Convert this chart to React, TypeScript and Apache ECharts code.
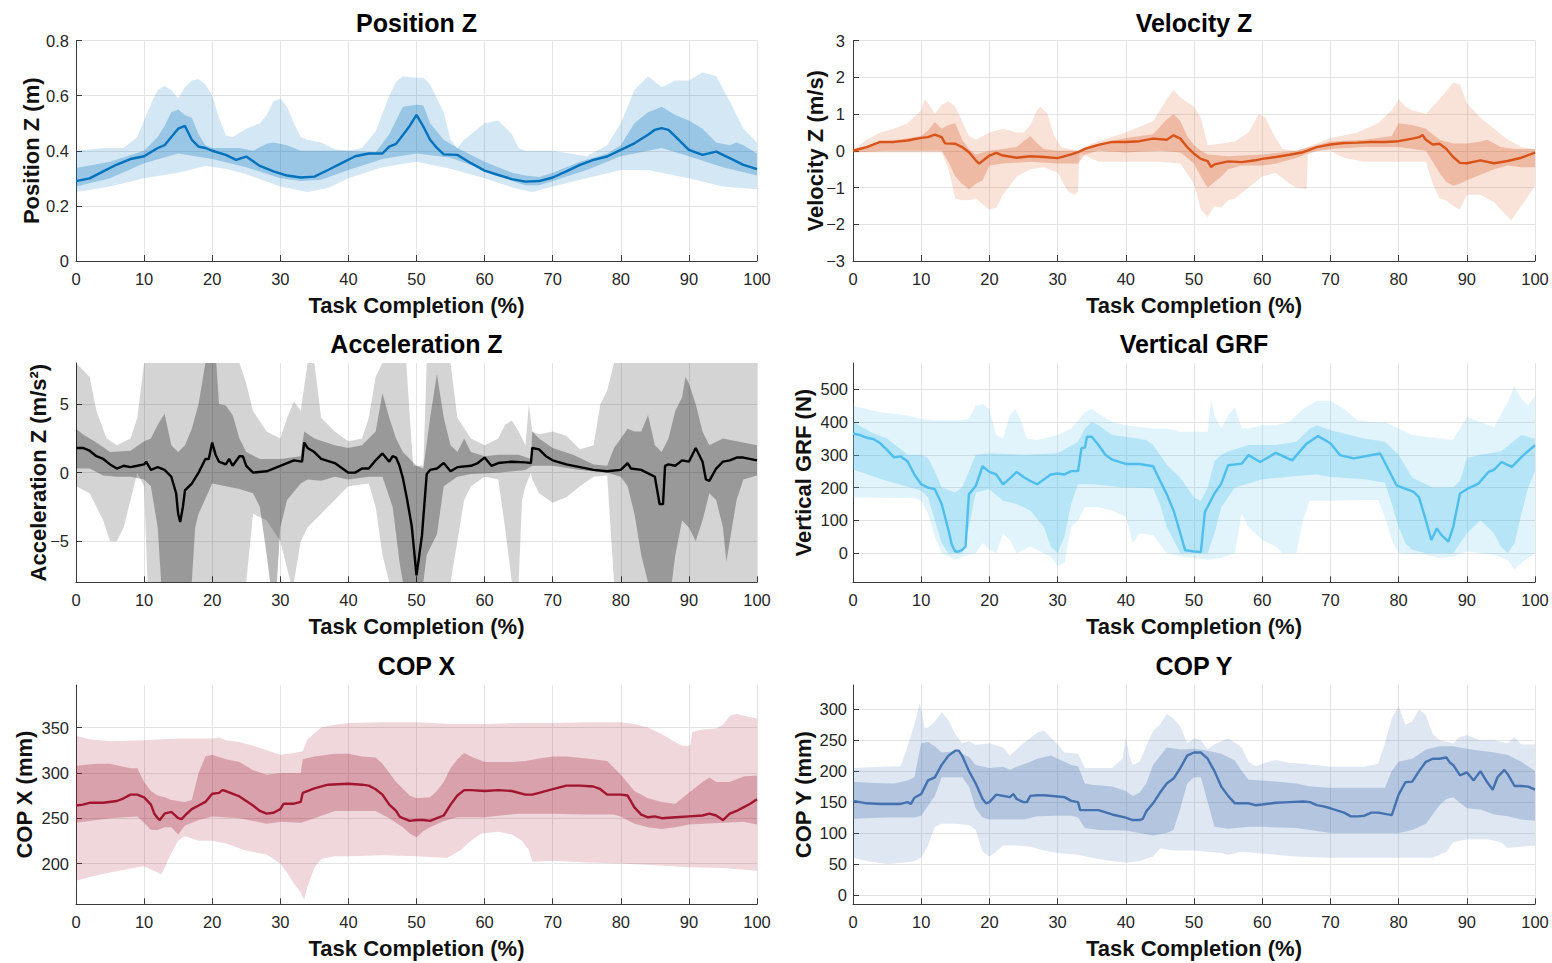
import React, { useEffect, useRef } from "react";
import * as echarts from "echarts";

type Pt = [number, number];

// ---------------- shared ticks / labels ----------------
const xTicksPct = [0, 10, 20, 30, 40, 50, 60, 70, 80, 90, 100];
const xLabel = "Task Completion (%)";

// ---------------- Position Z ----------------
const posZTicks = [0, 0.2, 0.4, 0.6, 0.8];
const posZMean: Pt[] = [[0,0.29],[2,0.30],[4,0.325],[6,0.35],[8,0.37],[10,0.38],[12,0.41],[13,0.42],[14,0.45],[15,0.48],[16,0.49],[17,0.44],[18,0.415],[19,0.41],[20,0.40],[22,0.385],[23.5,0.367],[25,0.379],[27,0.345],[29,0.325],[31,0.31],[33,0.303],[35,0.306],[37,0.33],[39,0.355],[41,0.38],[43,0.39],[45,0.39],[46,0.415],[47,0.425],[48,0.457],[49,0.49],[50,0.53],[51,0.488],[52,0.44],[53,0.41],[54,0.387],[56,0.385],[58,0.355],[60,0.328],[62,0.312],[64,0.297],[66,0.288],[68,0.29],[70,0.303],[72,0.325],[74,0.349],[76,0.367],[78,0.379],[80,0.403],[82,0.427],[84,0.458],[85,0.476],[86,0.482],[87,0.476],[88,0.452],[90,0.403],[92,0.385],[94,0.397],[96,0.373],[98,0.349],[100,0.333]];
const posZInHi: Pt[] = [[0,0.337],[5,0.36],[10,0.40],[12,0.45],[13,0.49],[14,0.54],[15,0.55],[16,0.53],[17,0.52],[18,0.46],[19,0.42],[20,0.41],[24,0.41],[26,0.40],[28,0.425],[29,0.43],[31,0.42],[33,0.40],[36,0.40],[40,0.40],[44,0.395],[46,0.46],[48,0.56],[50,0.567],[51,0.565],[52,0.50],[54,0.44],[56,0.41],[60,0.36],[64,0.32],[66,0.31],[68,0.305],[70,0.32],[74,0.36],[78,0.39],[80,0.42],[82,0.50],[84,0.54],[86,0.56],[88,0.53],[90,0.51],[92,0.48],[94,0.43],[96,0.42],[97,0.43],[98,0.42],[100,0.39]];
const posZInLo: Pt[] = [[0,0.27],[5,0.30],[10,0.355],[15,0.39],[20,0.37],[25,0.34],[30,0.30],[33,0.29],[36,0.295],[40,0.33],[45,0.37],[50,0.39],[55,0.375],[60,0.33],[64,0.29],[66,0.275],[68,0.275],[70,0.29],[75,0.33],[80,0.38],[84,0.40],[86,0.41],[90,0.38],[95,0.34],[100,0.31]];
const posZOutHi: Pt[] = [[0,0.40],[4,0.41],[7,0.41],[9,0.45],[11,0.57],[12,0.62],[13,0.635],[14,0.62],[15,0.59],[16,0.63],[17,0.655],[18,0.66],[19,0.64],[20,0.60],[21,0.52],[22,0.455],[23,0.45],[25,0.48],[27,0.50],[28,0.53],[29,0.58],[30,0.59],[31,0.56],[32,0.50],[33,0.45],[34,0.44],[36,0.43],[38,0.405],[40,0.40],[42,0.41],[44,0.47],[46,0.60],[47,0.65],[48,0.67],[50,0.665],[51,0.665],[52,0.64],[54,0.54],[55,0.44],[56,0.41],[57,0.44],[60,0.50],[62,0.51],[64,0.46],[65,0.41],[66,0.40],[70,0.40],[75,0.38],[78,0.42],[80,0.50],[82,0.62],[84,0.67],[86,0.63],[88,0.655],[90,0.655],[92,0.685],[94,0.67],[96,0.58],[98,0.48],[100,0.43]];
const posZOutLo: Pt[] = [[0,0.25],[5,0.27],[10,0.30],[15,0.32],[19,0.345],[22,0.335],[25,0.315],[30,0.27],[34,0.25],[37,0.265],[40,0.30],[45,0.34],[50,0.36],[55,0.335],[60,0.30],[65,0.26],[67,0.25],[70,0.27],[75,0.30],[80,0.33],[84,0.33],[90,0.30],[95,0.27],[100,0.26]];

// ---------------- Velocity Z ----------------
const velTicks = [-3, -2, -1, 0, 1, 2, 3];
const velMean: Pt[] = [[0,0],[2,0.1],[4,0.24],[6,0.24],[8,0.28],[10,0.35],[11,0.37],[12,0.44],[13,0.37],[13.5,0.2],[15,0.19],[16,0.1],[17,-0.04],[18,-0.26],[18.5,-0.35],[20,-0.13],[21,-0.06],[22,-0.13],[24,-0.19],[26,-0.15],[28,-0.17],[30,-0.2],[32,-0.1],[33,-0.04],[34,0.05],[36,0.16],[38,0.24],[40,0.24],[42,0.26],[44,0.33],[46,0.3],[47,0.42],[48,0.33],[49,0.1],[50,-0.08],[51,-0.22],[52,-0.28],[52.5,-0.44],[53,-0.37],[55,-0.29],[57,-0.31],[59,-0.26],[60,-0.22],[62,-0.17],[64,-0.11],[66,-0.04],[68,0.1],[70,0.17],[72,0.21],[74,0.22],[76,0.24],[78,0.24],[80,0.26],[82,0.33],[83,0.37],[83.5,0.43],[84,0.3],[85,0.17],[86,0.19],[87,0.05],[88,-0.17],[89,-0.33],[90,-0.34],[92,-0.26],[94,-0.34],[96,-0.28],[98,-0.19],[100,-0.05]];
const velInHi: Pt[] = [[0,0.05],[5,0.25],[10,0.4],[11,0.55],[12,0.78],[13,0.6],[14,0.7],[15,0.75],[16,0.3],[17,0.05],[18,-0.1],[20,0],[22,0.05],[24,0.1],[25,0.25],[26,0.4],[27,0.2],[28,0.05],[30,0],[33,0],[35,0.15],[40,0.35],[44,0.45],[46,0.85],[47,1.0],[48,0.8],[49,0.4],[50,0.15],[51,0],[52,-0.1],[55,-0.15],[60,-0.1],[65,0],[68,0.15],[70,0.25],[75,0.3],[79,0.4],[80,0.75],[82,0.7],[84,0.6],[86,0.3],[88,0.2],[90,0.2],[92,0.25],[93,0.3],[95,0.1],[97,0.05],[100,0.05]];
const velInLo: Pt[] = [[0,-0.05],[5,0],[10,0],[13,0],[14,-0.3],[15,-0.7],[16,-0.9],[17,-1.05],[18,-0.9],[19,-0.8],[20,-0.4],[22,-0.35],[26,-0.3],[30,-0.35],[33,-0.35],[34,-0.1],[36,0],[40,-0.05],[45,0],[48,-0.05],[50,-0.35],[51,-0.7],[52,-1.0],[53,-0.85],[54,-0.7],[55,-0.5],[57,-0.4],[60,-0.4],[62,-0.35],[65,-0.2],[67,-0.05],[70,0.05],[75,0.1],[80,0.1],[84,0],[85,-0.3],[86,-0.6],[87,-0.85],[88,-0.95],[89,-0.9],[90,-0.8],[92,-0.65],[94,-0.5],[96,-0.4],[98,-0.45],[100,-0.45]];
const velOutHi: Pt[] = [[0,0],[2,0.3],[4,0.5],[6,0.6],[8,0.75],[10,1.1],[10.5,1.4],[11,1.3],[12,1.0],[13,1.25],[14,1.35],[15,1.2],[16,0.8],[17,0.4],[18,0.3],[20,0.5],[22,0.6],[24,0.5],[25,0.5],[26,0.7],[27,1.1],[27.5,1.2],[28.5,1.0],[29.5,0.4],[30.5,0.1],[33,0],[35,0.2],[40,0.5],[44,0.8],[46,1.4],[47,1.65],[48,1.45],[50,1.2],[51,0.9],[52,0.15],[54,0.2],[56,0.25],[58,0.5],[59.5,1.0],[60.5,0.9],[61.5,0.5],[63,0.05],[65,0],[68,0.2],[70,0.35],[74,0.5],[77,0.75],[79,1.1],[80,1.4],[81,1.2],[82,1.1],[84,1.0],[86,1.4],[88,1.85],[89,1.8],[90,1.3],[92,0.9],[94,0.6],[96,0.3],[98,0.1],[100,0.05]];
const velOutLo: Pt[] = [[0,-0.05],[13,-0.05],[14,-0.5],[15,-1.3],[16,-1.35],[17,-1.35],[18,-1.3],[19,-1.45],[20,-1.6],[21,-1.55],[22,-1.2],[24,-0.7],[26,-0.5],[28,-0.45],[30,-0.6],[31.5,-1.1],[32.5,-1.2],[33,-1.1],[33.2,-0.05],[36,-0.3],[40,-0.3],[45,-0.3],[48,-0.35],[50,-0.9],[51,-1.6],[52,-1.8],[53,-1.5],[54,-1.55],[55,-1.35],[56,-1.3],[58,-1.0],[60,-0.7],[62,-0.6],[64,-0.9],[65,-1.0],[66.5,-1.05],[66.7,-0.1],[68,0],[70,0],[72,-0.2],[75,-0.3],[80,-0.3],[84,-0.3],[85,-0.9],[86,-1.3],[87,-1.35],[88,-1.5],[89,-1.6],[90,-1.2],[92,-1.2],[94,-1.4],[95,-1.6],[96.5,-1.9],[98,-1.5],[100,-0.95]];

// ---------------- Acceleration Z ----------------
const accTicks = [-5, 0, 5];
const accMean: Pt[] = [[0,1.8],[1,1.8],[2,1.6],[3,1.2],[4,1.0],[5,0.6],[6,0.3],[7,0.5],[8,0.4],[9,0.5],[10,0.6],[10.3,0.8],[11,0.2],[12,0.4],[13,0.2],[14,-0.3],[14.7,-1.5],[15,-3.0],[15.3,-3.6],[15.7,-2.5],[16,-1.3],[17,-0.8],[18,0],[19,1.0],[19.5,1.0],[20,2.2],[20.5,1.3],[21,0.8],[22,0.6],[22.5,1.0],[23,0.5],[24,1.2],[24.5,1.2],[25,0.5],[26,0],[28,0.1],[30,0.5],[32,0.9],[33.2,0.8],[33.5,2.2],[34,1.8],[35,1.5],[36,1.0],[38,0.7],[40,0],[41,0],[42,0.3],[43,0.3],[44,0.9],[45,1.4],[46,0.8],[46.5,1.2],[47,1.1],[47.5,0.5],[48,-0.4],[48.6,-1.9],[49.3,-3.9],[50,-7.5],[50.8,-4.6],[51.5,-0.1],[52,0.2],[53,0.3],[54,0.7],[55,0.1],[56,0.4],[58,0.5],[59,0.7],[60,1.1],[61,0.5],[62,0.7],[64,0.8],[66,0.75],[66.8,0.7],[67,1.8],[68,1.7],[69,1.2],[70,0.9],[72,0.6],[74,0.4],[76,0.2],[78,0.1],[80,0.2],[81,0.7],[81.5,0.3],[83,0.2],[85,-0.3],[85.7,-2.3],[86.2,-2.3],[86.5,0.5],[87,0.6],[88,0.5],[89,0.9],[90,0.8],[91,1.8],[92,0.8],[92.5,-0.5],[93,-0.6],[94,0.3],[95,0.8],[96,0.9],[97,1.1],[98,1.1],[100,0.9]];
const accInHi: Pt[] = [[0,3.2],[1,2.8],[3,2.2],[5,1.5],[8,1.6],[10,2.3],[11,2.5],[12,3.5],[13,4.3],[14,2.0],[15,1.5],[16,2.0],[17,3.2],[18,5.0],[19,8],[20.6,8],[21,5.0],[22,4.9],[23,4.2],[24,2.5],[25,1.5],[27,1.0],[30,1.0],[33,1.2],[33.5,3.0],[35,2.5],[38,2.0],[40,1.8],[42,2.0],[44,3.0],[45,5.8],[46,4.0],[47,2.5],[48,1.5],[50,0.5],[51,0.3],[52,4.0],[53,7.2],[54,4.0],[55,2.0],[56,1.5],[57,2.5],[58,1.5],[60,1.2],[62,1.3],[65,1.3],[66.8,1.0],[67,3.0],[68,2.5],[70,1.8],[73,1.3],[76,0.6],[78,0.5],[79,1.8],[80,2.5],[81,3.2],[82,3.0],[83,3.0],[84,4.2],[85,2.0],[86,1.5],[87,2.5],[88,4.5],[89,5.5],[89.5,7.0],[90,6.5],[91,5.0],[92,3.0],[93,2.0],[95,2.5],[97,2.3],[100,2.0]];
const accInLo: Pt[] = [[0,0.3],[2,0.3],[4,-0.2],[6,-0.3],[8,-0.3],[10,-0.5],[11,-1.0],[12,-4.0],[12.5,-8],[17,-8],[17.5,-4],[18,-3],[20,-0.8],[22,-1.0],[24,-1.2],[26,-1.5],[27,-2.5],[28,-6],[28.5,-8],[29.5,-8],[30,-4],[31,-2.0],[33,-0.8],[34,-0.5],[36,-0.6],[38,-0.3],[40,-0.5],[43,-0.3],[45,-0.3],[46.5,-2.5],[47.5,-6.5],[48,-8],[51,-8],[51.5,-6],[52,-5.5],[53,-4.5],[54,-1.0],[56,-0.3],[58,-0.1],[62,0],[66,0.2],[67,0.5],[70,0.5],[74,0.2],[78,0],[80,-0.3],[81,-1.0],[82,-3.0],[83,-6.0],[84,-8],[87.5,-8],[88,-6],[89,-3.5],[90,-4.0],[91,-5.0],[92,-3.5],[93,-1.5],[94,-2.0],[95,-4.0],[95.5,-6.5],[96,-5.0],[97,-2.0],[98,-0.5],[100,-0.2]];
const accOutHi: Pt[] = [[0,8],[2,7],[3,4.5],[4.5,2.5],[6,2.0],[8,2.5],[9,4],[10,8],[24,8],[25,6.5],[26,4.5],[28,3],[30,2.5],[31,4],[32,5.2],[33,4.5],[34,8],[35,8],[36,4],[38,3],[40,2.3],[42,2.5],[43,4],[44,7],[45,8],[48.5,8],[49.5,0.5],[51,0.5],[51.5,8],[55,8],[56,4],[58,2.5],[60,2.0],[62,2.5],[63,3.5],[64,3.8],[65,3.0],[66,2.0],[66.5,5.0],[67,3.0],[68,2.8],[70,3.0],[72,2.7],[74,1.7],[76,2.0],[77,5.0],[78,6.0],[79,8],[100,8]];
const accOutLo: Pt[] = [[0,-1.0],[2,-1.5],[4,-3.5],[5,-5.0],[6,-5.0],[7,-4.0],[8,-2.0],[9,0],[10,-1.0],[10.5,-8],[25,-8],[26,-3],[28,-3.5],[30,-5],[31.5,-8],[32,-8],[33,-5],[34,-4],[36,-3],[38,-2],[40,-1.0],[43,-0.8],[44,-2.5],[45,-6],[46,-8],[55,-8],[56,-5],[57,-2],[58,-1],[60,-0.3],[62,-0.5],[63,-4],[64,-8],[65,-8],[65.5,-2],[66,-1],[66.8,0],[67,-0.5],[68,-1.5],[70,-2.2],[72,-1.8],[74,-1.0],[76,-0.3],[78,-0.2],[79,-8],[100,-8]];

// ---------------- Vertical GRF ----------------
const grfTicks = [0, 100, 200, 300, 400, 500];
const grfMean: Pt[] = [[0,365],[1,360],[2,352],[3,348],[4,335],[5,315],[6,292],[7,295],[8,280],[9,240],[10,210],[11,200],[12,195],[13,150],[14,70],[14.5,25],[15,5],[15.5,5],[16,10],[16.5,20],[17,180],[18,205],[19,265],[20,248],[21,240],[22,210],[23,228],[24,248],[25,232],[26,220],[27,210],[28,225],[29,240],[30,243],[31,240],[32,250],[33,250],[33.5,320],[34,322],[34.3,355],[35,355],[36,330],[37,300],[38,285],[40,272],[42,272],[44,265],[45,222],[46,180],[47,130],[48,60],[48.7,9],[50,5],[51,3],[51.6,126],[53,182],[54,212],[55,268],[57,273],[58,299],[59.7,278],[62,306],[64.4,283],[66.5,334],[68.2,357],[70,335],[71.4,299],[73.4,289],[77.3,304],[79.7,207],[82.2,187],[83,170],[84,100],[84.8,40],[85.6,75],[86.3,55],[87.3,35],[88,80],[89,182],[90,195],[91.7,212],[93.2,248],[94,255],[95.1,278],[96.6,263],[98.3,299],[100,329]];
const grfInHi: Pt[] = [[0,400],[3,365],[5,350],[8,300],[10,300],[11,290],[12,250],[13,200],[15,185],[16,200],[17,250],[18,300],[20,305],[25,300],[30,305],[33,340],[34,380],[35,400],[36,390],[38,360],[40,355],[43,345],[44,330],[46,270],[48,230],[50,170],[51,160],[52,200],[53,280],[54,300],[55,310],[58,330],[62,330],[65,340],[67,380],[68,390],[70,375],[75,350],[78,340],[80,300],[82,230],[85,200],[88,200],[89,220],[90,290],[92,300],[95,310],[98,360],[100,350]];
const grfInLo: Pt[] = [[0,255],[5,220],[9,197],[10,190],[11,170],[12,100],[13,30],[14,0],[16,0],[17,80],[18,185],[20,195],[22,160],[24,150],[26,130],[28,80],[29,20],[30,0],[31,50],[32,150],[33,210],[35,210],[40,200],[44,198],[45,150],[46,80],[47,40],[48,0],[52,0],[53,60],[54,140],[56,200],[60,225],[65,235],[68,240],[70,232],[75,225],[78,215],[79,150],[80,80],[81,30],[82,10],[84,0],[88,0],[89,30],[90,60],[92,100],[94,60],[95,20],[96,0],[97,30],[98,120],[99,200],[100,250]];
const grfOutHi: Pt[] = [[0,450],[2,440],[4,430],[6,425],[8,420],[10,410],[12,405],[16,405],[17,410],[18,450],[19,455],[20,440],[21,360],[22,350],[23,420],[23.8,440],[24.5,410],[25.5,350],[27,345],[30,360],[32,380],[34,430],[35,440],[36,425],[38,400],[40,390],[42,385],[44,380],[46,380],[48,370],[50,370],[52,370],[52.5,470],[53,420],[54,380],[55,420],[56,445],[57,380],[58,380],[60,390],[62,390],[64,400],[66,440],[68,465],[70,465],[72,440],[74,405],[76,400],[78,400],[80,380],[82,360],[84,355],[86,350],[88,345],[90,415],[92,400],[94,385],[96,460],[97,510],[98,470],[99,450],[100,480]];
const grfOutLo: Pt[] = [[0,170],[9,168],[10,160],[11,120],[12,50],[13,0],[15,-20],[16,-10],[17,-5],[18,0],[19,30],[20,10],[21,0],[22,60],[23,40],[24,0],[26,20],[28,0],[29,-10],[30,-40],[31,-30],[32,80],[33,100],[34,140],[36,140],[38,130],[40,110],[41,30],[42,60],[44,55],[46,0],[48,-10],[50,-15],[52,-20],[54,-15],[56,0],[57,120],[58,80],[60,40],[62,20],[63,0],[65,0],[66,100],[67,160],[70,160],[75,162],[77,162],[78,110],[79,40],[80,0],[84,-5],[86,-15],[88,-10],[90,5],[92,0],[94,-5],[96,-20],[97,-50],[98,-30],[100,0]];

// ---------------- COP X ----------------
const copXTicks = [200, 250, 300, 350];
const copXMean: Pt[] = [[0,264],[1,265],[2,267],[4,267],[6,269],[7,272],[8,276],[9,276],[10,273],[11,265],[11.5,255],[12,250],[12.3,248],[13,255],[14,257],[15,250],[15.5,249],[16,253],[17,260],[18,264],[19,268],[20,277],[21,278],[21.5,281],[22,280],[24,274],[26,264],[27,258],[28,255],[29,256],[30,260],[30.5,266],[32,266],[33,268],[33.3,278],[35,283],[37,287],[40,288],[42,287],[43,286],[44,282],[45,276],[46,265],[47,258],[47.5,252],[48,250],[49,247],[50,248],[51,248],[52,247],[53,250],[54,253],[55,265],[56,275],[57,281],[58,281],[60,280],[62,281],[64,280],[66,276],[67,276],[68,278],[70,282],[72,286],[74,286],[76,285],[77,282],[78,276],[80,276],[81,275],[82,262],[83,254],[84,251],[85,252],[86,250],[88,251],[90,252],[92,253],[93,255],[94,253],[95,248],[96,255],[97,258],[98,262],[99,266],[100,271]];
const copXInHi: Pt[] = [[0,308],[3,310],[5,310],[8,305],[9,305],[10,290],[11,280],[12,275],[13,273],[14,270],[16,268],[17,270],[18,300],[19,318],[20,320],[22,315],[24,312],[26,303],[28,298],[30,300],[33,300],[33.3,315],[35,318],[38,321],[40,321],[42,318],[44,317],[45,310],[47,290],[49,275],[50,272],[52,273],[53,280],[54,290],[55,305],[56,315],[57,322],[58,318],[60,312],[64,312],[66,313],[68,316],[70,318],[72,318],[75,316],[78,313],[80,298],[82,280],[84,272],[86,268],[88,266],[90,278],[92,290],[93,295],[94,290],[96,290],[98,296],[100,297]];
const copXInLo: Pt[] = [[0,245],[5,250],[9,252],[10,245],[11,237],[12,237],[13,240],[14,240],[15,232],[16,242],[18,248],[20,252],[24,250],[28,244],[30,246],[33,245],[35,250],[38,258],[41,258],[44,258],[46,250],[48,240],[49,233],[50,229],[51,236],[52,240],[54,247],[56,251],[60,251],[65,255],[70,255],[75,254],[79,254],[80,252],[82,244],[84,240],[86,238],[88,240],[90,243],[95,245],[98,246],[100,243]];
const copXOutHi: Pt[] = [[0,341],[2,337],[5,335],[10,336],[15,338],[20,338],[21,339],[22,336],[24,334],[26,330],[28,325],[30,320],[32,322],[33.3,324],[34,337],[36,350],[38,353],[40,355],[45,356],[50,356],[55,354],[60,354],[65,355],[70,355],[75,356],[80,356],[82,354],[84,350],[86,343],[88,334],[89,330],[90.2,330],[90.5,345],[92,348],[94,349],[95,353],[96,363],[97,365],[98,363],[100,360]];
const copXOutLo: Pt[] = [[0,181],[2,185],[5,190],[9,196],[10,197],[12,190],[12.5,188],[13,195],[14,212],[15,225],[16,230],[17,228],[18,225],[20,225],[22,222],[25,214],[28,210],[30,200],[31,190],[32,178],[33,168],[33.5,160],[34,175],[35,195],[36,205],[38,208],[40,208],[45,209],[50,208],[54.5,206],[56.5,215],[58,225],[59.5,233],[62,235],[64,232],[65.5,225],[66.5,215],[67,202],[70,203],[75,201],[80,200],[85,198],[90,196],[95,195],[100,192]];

// ---------------- COP Y ----------------
const copYTicks = [0, 50, 100, 150, 200, 250, 300];
const copYMean: Pt[] = [[0,152],[2,148],[4,147],[6,147],[7,147],[8,150],[8.5,147],[9,157],[10,163],[11,185],[12,190],[13,210],[14,225],[15,233],[15.5,233],[16,225],[17,200],[18,180],[19,155],[19.5,148],[20,150],[21,162],[22,160],[23,158],[23.5,163],[24,155],[25,150],[25.5,150],[26,160],[27,161],[28,161],[30,159],[31,158],[32,152],[33,150],[33.3,137],[34,137],[36,137],[38,130],[40,125],[41,121],[42,121],[42.5,123],[43,135],[44,148],[45,165],[46,180],[47,188],[48,205],[49,225],[50,230],[51,230],[52,220],[53,200],[54,175],[55,160],[56,148],[57,148],[58,148],[59,145],[60,146],[62,149],[64,150],[66,151],[67,150],[68,145],[69,143],[70,140],[72,133],[73,127],[74,127],[75,128],[76,133],[77,133],[78,131],[79,129],[80,162],[81,182],[82,183],[83,200],[84,215],[85,220],[86,220],[87,222],[87.5,214],[88,210],[89,193],[90,198],[91,185],[92,200],[93,182],[93.8,170],[94.5,190],[95.5,202],[96,195],[97,176],[98,176],[99,175],[100,170]];
const copYInHi: Pt[] = [[0,183],[3,181],[6,180],[8,185],[9,190],[10,245],[11,247],[12,240],[13,230],[15,232],[17,223],[18,210],[20,205],[22,207],[23,202],[24,207],[26,215],[27,220],[29,225],[30,220],[31,215],[32,210],[33,208],[34,180],[35,178],[38,175],[40,168],[41,160],[42,165],[43,180],[44,210],[46,238],[48,235],[50,236],[52,233],[54,228],[56,217],[57,200],[58,186],[60,185],[65,180],[67,175],[70,173],[75,173],[78,173],[79,200],[80,215],[82,220],[84,235],[86,240],[88,240],[90,236],[92,233],[94,230],[96,226],[98,215],[100,200]];
const copYInLo: Pt[] = [[0,123],[5,125],[9,125],[10,128],[12,160],[13,190],[15,190],[16,190],[17,175],[18,140],[19,125],[20,122],[25,122],[27,127],[30,128],[32,128],[33,125],[34,108],[36,105],[40,104],[42,100],[44,96],[46,100],[47,105],[48,140],[49,180],[50,190],[51,190],[52,150],[53,110],[55,107],[58,110],[60,110],[65,108],[70,100],[75,100],[80,100],[82,105],[84,115],[86,145],[87,155],[88,158],[90,140],[92,138],[94,130],[96,127],[98,122],[100,120]];
const copYOutHi: Pt[] = [[0,205],[4,207],[7,208],[8,240],[9,275],[9.8,310],[10.5,270],[11,270],[12,280],[13,295],[14,282],[15,260],[16,245],[17,248],[18,242],[20,245],[22,238],[23,225],[25,245],[27,262],[28,265],[30,243],[31,230],[33,228],[34,205],[36,205],[38,205],[39.5,220],[40,255],[40.5,225],[41,210],[42,215],[43,240],[44,265],[45,275],[46,292],[47,285],[48,272],[49,245],[50,253],[51,250],[52,235],[53,243],[55,253],[57,238],[58,215],[59,208],[60,212],[62,218],[64,213],[66,212],[70,207],[75,207],[77,212],[78,245],[79,285],[80,305],[81,275],[82,280],[83,300],[84,290],[85,260],[86,250],[88,245],[89,255],[90,258],[92,250],[94,250],[96,245],[97,255],[98,243],[100,243]];
const copYOutLo: Pt[] = [[0,60],[2,55],[5,50],[8,53],[9,55],[10,60],[11,80],[12,110],[13,115],[15,115],[17,113],[18,105],[19,70],[20,62],[21,70],[22,80],[24,80],[26,78],[28,72],[30,68],[33,65],[35,60],[37,56],[40,52],[42,55],[44,62],[45,75],[47,72],[50,72],[52,70],[54,68],[55,65],[57,70],[60,67],[65,62],[70,60],[75,60],[80,60],[85,60],[87,70],[88,85],[90,90],[93,90],[95,85],[96,76],[98,78],[100,80]];

// ---------------- styling ----------------
const FONT = "Arial, 'Liberation Sans', Helvetica, sans-serif";
const AXIS_COLOR = "#3a3a3a";
const TEXT_COLOR = "#262626";
const GRID_COLOR = "#e3e3e3";
const TICK_FONT = 16.5;

const fmt = (v: number) => (v < 0 ? "\u2212" + String(Math.abs(v)) : String(v));

interface Panel {
  title: string;
  yName: string;
  yMin: number;
  yMax: number;
  yTicks: number[];
  line: string;
  rgb: string;
  mean: Pt[];
  inHi: Pt[];
  inLo: Pt[];
  outHi: Pt[];
  outLo: Pt[];
  box: [number, number, number, number];
  yNameGap: number;
  yLabelMargin: number;
}

const LX = 76, LW = 681, RX = 853, RW = 682;
const ROWS: [number, number][] = [[40.5, 220.5], [363, 219.3], [685, 219.3]];

const panels: Panel[] = [
  { title: "Position Z", yName: "Position Z (m)", yMin: 0, yMax: 0.8, yTicks: posZTicks, line: "#0072BD", rgb: "0,114,189", mean: posZMean, inHi: posZInHi, inLo: posZInLo, outHi: posZOutHi, outLo: posZOutLo, box: [LX, ROWS[0][0], LW, ROWS[0][1]], yNameGap: 34, yLabelMargin: 7 },
  { title: "Velocity Z", yName: "Velocity Z (m/s)", yMin: -3, yMax: 3, yTicks: velTicks, line: "#D95319", rgb: "217,83,25", mean: velMean, inHi: velInHi, inLo: velInLo, outHi: velOutHi, outLo: velOutLo, box: [RX, ROWS[0][0], RW, ROWS[0][1]], yNameGap: 27, yLabelMargin: 8 },
  { title: "Acceleration Z", yName: "Acceleration Z (m/s\u00B2)", yMin: -8, yMax: 8, yTicks: accTicks, line: "#000000", rgb: "0,0,0", mean: accMean, inHi: accInHi, inLo: accInLo, outHi: accOutHi, outLo: accOutLo, box: [LX, ROWS[1][0], LW, ROWS[1][1]], yNameGap: 27, yLabelMargin: 7 },
  { title: "Vertical GRF", yName: "Vertical GRF (N)", yMin: -89, yMax: 580, yTicks: grfTicks, line: "#4DBEEE", rgb: "77,190,238", mean: grfMean, inHi: grfInHi, inLo: grfInLo, outHi: grfOutHi, outLo: grfOutLo, box: [RX, ROWS[1][0], RW, ROWS[1][1]], yNameGap: 39, yLabelMargin: 5 },
  { title: "COP X", yName: "COP X (mm)", yMin: 155, yMax: 397, yTicks: copXTicks, line: "#A2142F", rgb: "162,20,47", mean: copXMean, inHi: copXInHi, inLo: copXInLo, outHi: copXOutHi, outLo: copXOutLo, box: [LX, ROWS[2][0], LW, ROWS[2][1]], yNameGap: 41, yLabelMargin: 7 },
  { title: "COP Y", yName: "COP Y (mm)", yMin: -15, yMax: 339, yTicks: copYTicks, line: "#4472B0", rgb: "68,114,176", mean: copYMean, inHi: copYInHi, inLo: copYInLo, outHi: copYOutHi, outLo: copYOutLo, box: [RX, ROWS[2][0], RW, ROWS[2][1]], yNameGap: 39, yLabelMargin: 6 },
];

const bandSeries = (hi: Pt[], lo: Pt[], idx: number, fill: string, yMin: number) => {
  const poly: Pt[] = [...hi, ...lo.slice().reverse()];
  return {
    type: "custom",
    xAxisIndex: idx,
    yAxisIndex: idx,
    silent: true,
    clip: true,
    data: [[0, yMin]],
    encode: { x: 0, y: 1 },
    renderItem: (_params: any, api: any) => ({
      type: "polygon",
      shape: { points: poly.map((p) => api.coord(p)) },
      style: { fill },
    }),
  };
};

function buildOption() {
  const grid: any[] = [];
  const xAxis: any[] = [];
  const yAxis: any[] = [];
  const series: any[] = [];
  const graphic: any[] = [];

  panels.forEach((p, i) => {
    const [left, top, width, height] = p.box;
    grid.push({ left, top, width, height, containLabel: false, outerBoundsMode: "none" });
    const axisLine = { show: true, onZero: false, lineStyle: { color: AXIS_COLOR, width: 1 } };
    const nameTextStyle = { fontSize: 22, fontWeight: "bold", color: "#111", fontFamily: FONT };
    xAxis.push({
      type: "value",
      gridIndex: i,
      min: 0,
      max: 100,
      interval: 10,
      name: xLabel,
      nameLocation: "middle",
      nameGap: 33,
      nameMoveOverlap: false,
      nameTextStyle,
      axisLine,
      axisTick: { show: true, inside: true, length: 6, customValues: xTicksPct, lineStyle: { color: AXIS_COLOR } },
      axisLabel: { margin: 9, fontSize: TICK_FONT, color: TEXT_COLOR, fontFamily: FONT, customValues: xTicksPct },
      splitLine: { show: true, lineStyle: { color: GRID_COLOR, width: 1 } },
    });
    yAxis.push({
      type: "value",
      gridIndex: i,
      min: p.yMin,
      max: p.yMax,
      name: p.yName,
      nameLocation: "middle",
      nameRotate: 90,
      nameGap: p.yNameGap,
      nameMoveOverlap: false,
      nameTextStyle,
      axisLine,
      axisTick: { show: true, inside: true, length: 6, customValues: p.yTicks, lineStyle: { color: AXIS_COLOR } },
      axisLabel: { margin: p.yLabelMargin, fontSize: TICK_FONT, color: TEXT_COLOR, fontFamily: FONT, customValues: p.yTicks, formatter: fmt },
      splitLine: { show: true, lineStyle: { color: GRID_COLOR, width: 1 } },
    });
    series.push(bandSeries(p.outHi, p.outLo, i, `rgba(${p.rgb},0.17)`, p.yMin));
    series.push(bandSeries(p.inHi, p.inLo, i, `rgba(${p.rgb},0.28)`, p.yMin));
    series.push({
      type: "line",
      xAxisIndex: i,
      yAxisIndex: i,
      data: p.mean,
      showSymbol: false,
      symbol: "none",
      silent: true,
      clip: true,
      lineStyle: { color: p.line, width: 2.4 },
      itemStyle: { color: p.line },
      z: 5,
    });
    const titleY = [22.5, 344, 666][Math.floor(i / 2)];
    graphic.push({
      type: "text",
      x: left + width / 2,
      y: titleY,
      silent: true,
      style: {
        text: p.title,
        fill: "#000",
        font: `bold 25px ${FONT}`,
        textAlign: "center",
        textVerticalAlign: "middle",
        align: "center",
        verticalAlign: "middle",
      },
    });
  });

  return {
    animation: false,
    backgroundColor: "#ffffff",
    textStyle: { fontFamily: FONT },
    grid,
    xAxis,
    yAxis,
    series,
    graphic,
  };
}

export default function App() {
  const ref = useRef<HTMLDivElement>(null);
  useEffect(() => {
    if (!ref.current) return;
    const chart = echarts.init(ref.current, undefined, { renderer: "svg" });
    chart.setOption(buildOption() as any);
    return () => chart.dispose();
  }, []);
  return (
    <div
      ref={ref}
      style={{ position: "fixed", left: 0, top: 0, width: 1552, height: 963, background: "#fff" }}
    />
  );
}
